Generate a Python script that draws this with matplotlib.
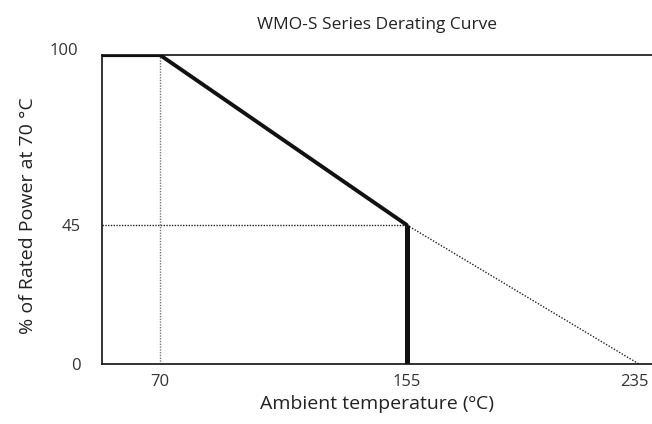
import matplotlib
matplotlib.use("Agg")
from matplotlib import pyplot as plt
from matplotlib.transforms import ScaledTranslation

# derating curve values
temp_flat = [50, 70]
power_flat = [100, 100]
temp_slope = [70, 155]
power_slope = [100, 45]
temp_cutoff = [155, 155]
power_cutoff = [45, 0]
temp_extrap = [155, 235]
power_extrap = [45, 0]

x_ticks = [70, 155, 235]
y_ticks = [0, 45, 100]

plt.rcParams["font.family"] = ["Open Sans", "DejaVu Sans"]

fig = plt.figure(figsize=(6.52, 4.24), dpi=100)
ax = fig.add_axes([0.1564, 0.1415, 0.8436, 0.7288])

# guide lines
ax.plot([70, 70], [0, 100], color="#777777", linewidth=1.0, linestyle=(0, (1, 1)))
ax.plot([50, 155], [45, 45], color="#222222", linewidth=1.0, linestyle=(0, (1, 1)))
ax.plot(temp_extrap, power_extrap, color="#222222", linewidth=1.0, linestyle=(0, (1, 1.2)))

# main curve
ax.plot(temp_flat, power_flat, color="#111111", linewidth=3.0, solid_capstyle="butt")
ax.plot(temp_slope, power_slope, color="#111111", linewidth=2.8, solid_capstyle="round")
ax.plot(temp_cutoff, power_cutoff, color="#111111", linewidth=3.6, solid_capstyle="butt")

ax.set_xlim(50, 239.5)
ax.set_ylim(0, 100)
ax.set_xticks(x_ticks)
ax.set_yticks(y_ticks)
ax.tick_params(length=0, labelsize=12, colors="#333333", pad=7)
ax.tick_params(axis="y", pad=15)

# nudge the edge labels like the original
last = ax.get_xticklabels()[-1]
last.set_transform(last.get_transform() + ScaledTranslation(-0.05, 0, fig.dpi_scale_trans))
top = ax.get_yticklabels()[-1]
top.set_transform(top.get_transform() + ScaledTranslation(-0.03, 0.06, fig.dpi_scale_trans))

for side in ["left", "bottom", "top"]:
    ax.spines[side].set_linewidth(1.2)
    ax.spines[side].set_color("#111111")
ax.spines["right"].set_visible(False)

ax.set_title("WMO-S Series Derating Curve", fontsize=12.5, color="#222222", pad=19)
ax.set_xlabel("Ambient temperature (ºC)", fontsize=14, color="#222222", labelpad=4)
ax.set_ylabel("% of Rated Power at 70 °C", fontsize=14, color="#222222")
ax.yaxis.set_label_coords(-0.118, 0.48)

fig.savefig("out.png", dpi=100)
